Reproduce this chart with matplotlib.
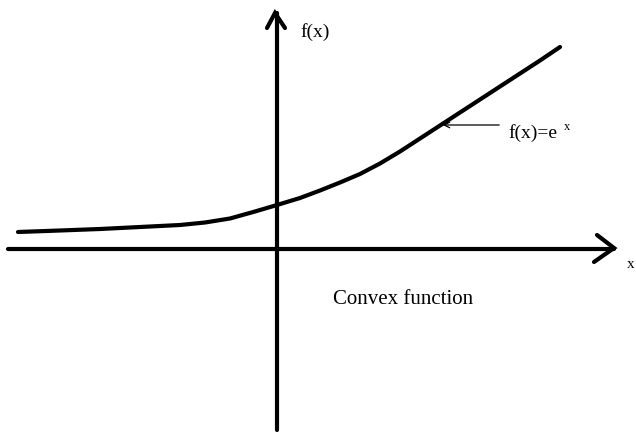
import matplotlib.pyplot as plt

# curve (units: 100 px, origin at axes crossing)
curve_x = [-2.59, -2.17, -1.77, -1.37, -0.97, -0.72, -0.47, -0.22, 0.0,
           0.23, 0.43, 0.63, 0.83, 1.03, 1.23, 1.43, 1.63, 1.83, 2.03,
           2.23, 2.43, 2.63, 2.83]
curve_y = [0.17, 0.185, 0.20, 0.22, 0.24, 0.265, 0.305, 0.375, 0.44,
           0.51, 0.585, 0.665, 0.75, 0.855, 0.975, 1.105, 1.235, 1.365, 1.495,
           1.625, 1.755, 1.885, 2.02]

x_axis = [-2.69, 3.37]
y_axis = [-1.81, 2.36]

plt.rcParams['font.family'] = ['Liberation Serif', 'DejaVu Serif']

fig = plt.figure(figsize=(6.36, 4.32), dpi=100)
ax = fig.add_axes([0, 0, 1, 1])
ax.set_xlim(-2.77, 3.59)
ax.set_ylim(-1.83, 2.49)
ax.axis("off")

# axes lines
ax.plot(x_axis, [0, 0], color="black", lw=3, solid_capstyle="round")
ax.plot([0, 0], y_axis, color="black", lw=3, solid_capstyle="round")

# chevron arrow heads
ax.plot([3.20, 3.37, 3.17], [0.14, 0.01, -0.13], color="black", lw=3,
        solid_capstyle="round", solid_joinstyle="miter")
ax.plot([-0.10, -0.02, 0.08], [2.21, 2.36, 2.21], color="black", lw=3,
        solid_capstyle="round", solid_joinstyle="miter")

# the function
ax.plot(curve_x, curve_y, color="black", lw=3, solid_capstyle="round",
        solid_joinstyle="round")

# labels
ax.text(0.23, 2.17, "f(x)", fontsize=14, va="center", ha="left")
ax.text(3.50, -0.15, "x", fontsize=11, va="center", ha="left")
ax.text(0.56, -0.51, "Convex function", fontsize=15, va="center", ha="left")

ax.annotate("", xy=(1.63, 1.24), xytext=(2.25, 1.24),
            arrowprops=dict(arrowstyle="->", color="black", lw=0.9))
ax.text(2.31, 1.16, "f(x)=e", fontsize=14, va="center", ha="left")
ax.text(2.87, 1.22, "x", fontsize=9, va="center", ha="left")

fig.savefig("out.png", dpi=100)
